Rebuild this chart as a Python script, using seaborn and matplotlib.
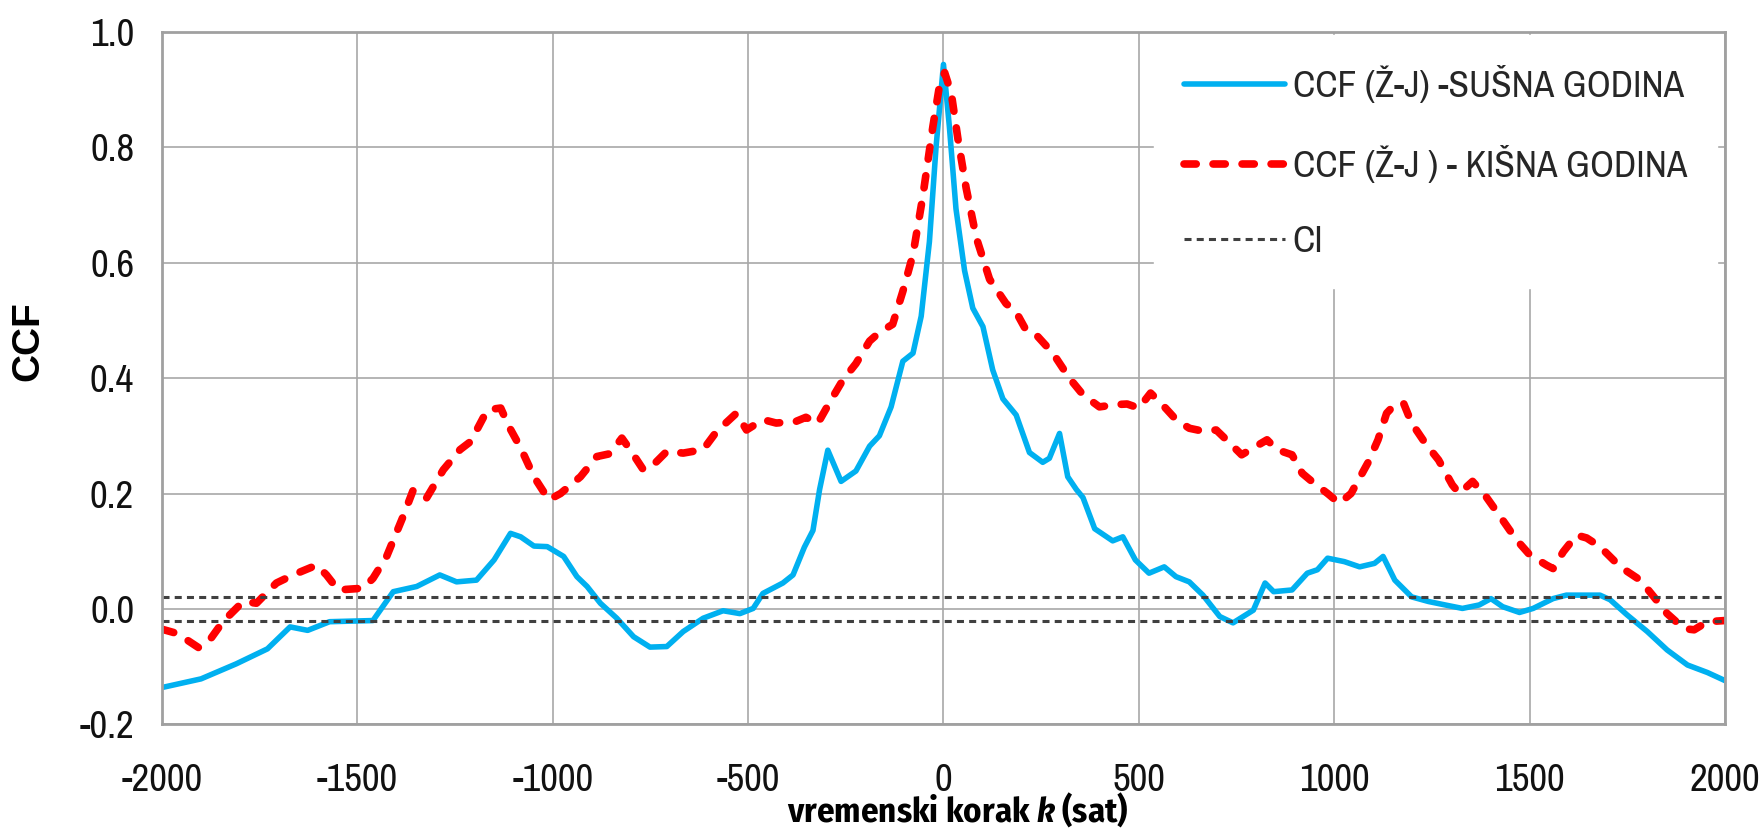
import numpy as np
import seaborn as sns
import matplotlib
matplotlib.use('Agg')
import matplotlib.pyplot as plt
from matplotlib.ticker import FormatStrFormatter, MultipleLocator

# CCF, dry year
lag_dry = [-2000, -1900, -1810, -1730, -1672, -1627, -1571, -1460, -1408, -1348,
           -1289, -1246, -1195, -1150, -1108, -1082, -1048, -1014, -972, -938,
           -912, -878, -836, -793, -751, -708, -666, -615, -564, -521,
           -487, -462, -411, -385, -356, -334, -317, -296, -262, -224,
           -189, -164, -134, -104, -78, -57, -36, -19, 0, 15,
           32, 54, 75, 101, 126, 152, 186, 220, 254, 271,
           297, 318, 340, 357, 387, 433, 459, 491, 526, 565,
           595, 629, 664, 707, 741, 793, 823, 845, 892, 931,
           957, 983, 1026, 1065, 1103, 1125, 1155, 1198, 1241, 1284,
           1328, 1371, 1401, 1431, 1474, 1509, 1560, 1594, 1680, 1706,
           1749, 1801, 1852, 1904, 1955, 2000]
ccf_dry = [-0.136, -0.121, -0.095, -0.069, -0.031, -0.037, -0.022, -0.020, 0.030, 0.039,
           0.059, 0.047, 0.050, 0.085, 0.131, 0.125, 0.109, 0.108, 0.091, 0.056,
           0.039, 0.010, -0.016, -0.048, -0.066, -0.065, -0.039, -0.016, -0.003, -0.008,
           0.001, 0.027, 0.045, 0.059, 0.107, 0.136, 0.207, 0.275, 0.221, 0.239,
           0.282, 0.300, 0.350, 0.429, 0.443, 0.507, 0.636, 0.800, 0.943, 0.836,
           0.693, 0.586, 0.521, 0.489, 0.414, 0.364, 0.336, 0.271, 0.254, 0.261,
           0.304, 0.229, 0.207, 0.193, 0.139, 0.118, 0.125, 0.085, 0.062, 0.073,
           0.056, 0.047, 0.024, -0.013, -0.024, -0.002, 0.045, 0.030, 0.033, 0.062,
           0.068, 0.088, 0.082, 0.073, 0.079, 0.091, 0.050, 0.021, 0.013, 0.007,
           0.001, 0.007, 0.018, 0.004, -0.006, 0.001, 0.018, 0.024, 0.024, 0.016,
           -0.010, -0.039, -0.071, -0.097, -0.110, -0.124]

# CCF, wet year
lag_wet = [-2000, -1958, -1935, -1906, -1878, -1844, -1792, -1758, -1707, -1661,
           -1604, -1579, -1549, -1485, -1460, -1425, -1383, -1357, -1323, -1280,
           -1237, -1210, -1167, -1133, -1112, -1082, -1048, -1010, -980, -929,
           -887, -853, -823, -802, -768, -742, -708, -666, -615, -581,
           -530, -504, -462, -428, -377, -352, -322, -292, -258, -224,
           -189, -164, -130, -104, -78, -53, -27, -10, 3, 20,
           37, 58, 84, 118, 160, 186, 212, 237, 280, 322,
           357, 399, 442, 470, 500, 530, 560, 595, 629, 664,
           698, 724, 763, 793, 828, 853, 892, 918, 948, 983,
           1013, 1043, 1086, 1112, 1134, 1155, 1177, 1198, 1233, 1267,
           1302, 1320, 1354, 1388, 1431, 1466, 1500, 1543, 1560, 1586,
           1620, 1646, 1680, 1732, 1783, 1818, 1852, 1895, 1921, 1955,
           2000]
ccf_wet = [-0.035, -0.043, -0.054, -0.067, -0.054, -0.022, 0.013, 0.010, 0.045, 0.060,
           0.076, 0.059, 0.033, 0.036, 0.053, 0.091, 0.160, 0.206, 0.192, 0.241,
           0.276, 0.290, 0.345, 0.348, 0.316, 0.279, 0.229, 0.189, 0.200, 0.229,
           0.264, 0.269, 0.296, 0.276, 0.241, 0.250, 0.273, 0.270, 0.276, 0.307,
           0.339, 0.310, 0.328, 0.322, 0.325, 0.332, 0.321, 0.357, 0.396, 0.425,
           0.464, 0.479, 0.493, 0.550, 0.614, 0.714, 0.836, 0.907, 0.929, 0.893,
           0.814, 0.729, 0.643, 0.571, 0.529, 0.514, 0.482, 0.475, 0.443, 0.400,
           0.371, 0.350, 0.354, 0.355, 0.348, 0.374, 0.354, 0.328, 0.313, 0.308,
           0.310, 0.293, 0.267, 0.279, 0.293, 0.276, 0.267, 0.235, 0.218, 0.200,
           0.183, 0.200, 0.253, 0.293, 0.339, 0.354, 0.357, 0.322, 0.287, 0.258,
           0.215, 0.200, 0.221, 0.195, 0.154, 0.120, 0.094, 0.076, 0.070, 0.099,
           0.128, 0.123, 0.108, 0.073, 0.050, 0.021, -0.008, -0.034, -0.036, -0.022,
           -0.020]

ci_level = 0.021

labels = ['CCF (Ž-J) -SUŠNA GODINA', 'CCF (Ž-J ) - KIŠNA GODINA', 'CI']

sns.set_theme(style='white')
plt.rcParams['font.family'] = ['Archivo Narrow', 'DejaVu Sans']
plt.rcParams['axes.unicode_minus'] = False
plt.rcParams['mathtext.fontset'] = 'custom'
plt.rcParams['mathtext.bfit'] = 'Fira Sans Condensed:bold:italic'

fig = plt.figure(figsize=(17.64, 8.34), dpi=100)
ax = fig.add_axes([0.0918, 0.1313, 0.8861, 0.8309])

sns.lineplot(x=lag_dry, y=ccf_dry, ax=ax, color='#00B0F0', lw=4,
             label=labels[0], estimator=None, sort=False)
sns.lineplot(x=lag_wet, y=ccf_wet, ax=ax, color='#FF0000', lw=5.5,
             label=labels[1], estimator=None, sort=False)
wet_line = ax.lines[-1]
wet_line.set_dashes((1.6, 2.2))
wet_line.set_dash_capstyle('round')
for ln in ax.lines:
    ln.set_solid_joinstyle('round')
    ln.set_solid_capstyle('round')

ax.axhline(ci_level, color='#404040', lw=2.2, dashes=(2.3, 1.7), label=labels[2])
ax.axhline(-ci_level, color='#404040', lw=2.2, dashes=(2.3, 1.7))

ax.set_xlim(-2000, 2000)
ax.set_ylim(-0.2, 1.0)
ax.xaxis.set_major_locator(MultipleLocator(500))
ax.yaxis.set_major_locator(MultipleLocator(0.2))
ax.yaxis.set_major_formatter(FormatStrFormatter('%.1f'))
ax.grid(True, color='#a8a8a8', lw=1.2)
ax.set_axisbelow(True)
for sp in ax.spines.values():
    sp.set_color('#a0a0a0')
    sp.set_linewidth(2)
ax.tick_params(axis='both', length=0, labelsize=28, labelcolor='#111111')
ax.tick_params(axis='x', pad=28)
ax.tick_params(axis='y', pad=20)

ax.set_xlabel(r'vremenski korak $\mathbfit{k}$ (sat)', fontsize=25, fontweight='bold',
              color='black', family=['Fira Sans Condensed', 'Archivo Narrow', 'DejaVu Sans'])
ax.xaxis.set_label_coords(0.509, -0.095)
ax.set_ylabel('CCF', fontsize=28, fontweight='bold', color='black',
              family=['Liberation Sans', 'DejaVu Sans'])
ax.yaxis.set_label_coords(-0.074, 0.553)

leg = ax.legend(loc='upper right', bbox_to_anchor=(0.995, 0.995), borderaxespad=0,
                fontsize=27, frameon=True, fancybox=False, facecolor='white',
                edgecolor='white', framealpha=1, handlelength=2.7,
                handletextpad=0.2, labelspacing=1.12, borderpad=0.8)

plt.savefig('out.png', dpi=100)
